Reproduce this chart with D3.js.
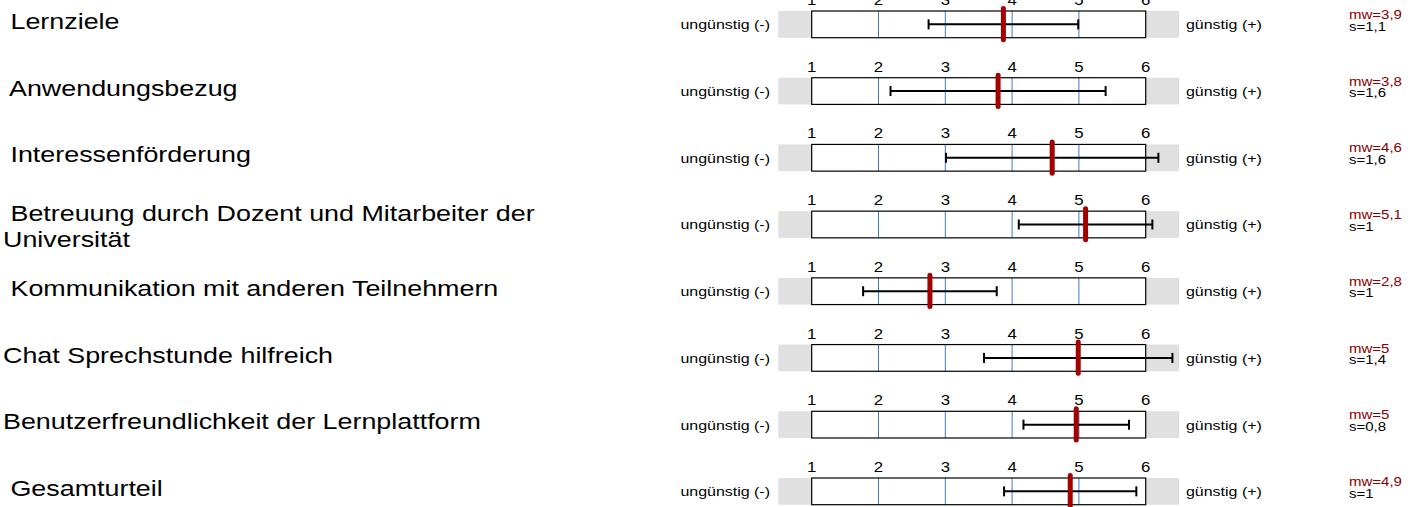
<!DOCTYPE html>
<html><head><meta charset="utf-8">
<script src="https://cdn.jsdelivr.net/npm/d3@7"></script>
<style>html,body{margin:0;padding:0;background:#fff;}svg{display:block;font-family:"Liberation Sans",Arial,sans-serif;}</style>
</head><body><svg id="c" width="1426" height="507"></svg>
<script>
const categories = [" Lernziele", " Anwendungsbezug", " Interessenförderung", " Betreuung durch Dozent und Mitarbeiter der|Universität", " Kommunikation mit anderen Teilnehmern", "Chat Sprechstunde hilfreich", "Benutzerfreundlichkeit der Lernplattform", " Gesamturteil"];
const means = [3.87, 3.79, 4.60, 5.10, 2.77, 4.99, 4.96, 4.87];
const sds = [1.12, 1.61, 1.59, 1.00, 1.00, 1.41, 0.79, 0.99];
const mwLabels = ["mw=3,9","mw=3,8","mw=4,6","mw=5,1","mw=2,8","mw=5","mw=5","mw=4,9"];
const sLabels = ["s=1,1","s=1,6","s=1,6","s=1","s=1","s=1,4","s=0,8","s=1"];
const ticks = [1,2,3,4,5,6];
const gridTicks = [2,3,4,5];
const leftLabel = "ungünstig (-)";
const rightLabel = "günstig (+)";

const svg = d3.select("#c");
const x = d3.scaleLinear().domain([1,6]).range([811.7,1145.7]);
const rowTop = d3.scaleLinear().domain([0,7]).range([11,478]);
const boxH = 26.7;

function stext(g, tx, ty, txt, size, anchor, fill, sx){
  return g.append("text").attr("transform",`translate(${tx},${ty}) scale(${sx||1.2},1)`)
    .attr("font-size",size).attr("text-anchor",anchor||"start").attr("fill",fill||"#000")
    .style("white-space","pre").attr("xml:space","preserve").text(txt);
}

categories.forEach((cat,i)=>{
  const t = rowTop(i);
  const g = svg.append("g");
  const parts = cat.split("|");
  if(parts.length>1){
    stext(g,3,t+9.7,parts[0],21.5,"start","#000",1.25);
    stext(g,3,t+35.7,parts[1],21.5,"start","#000",1.25);
  } else {
    stext(g,3,t+18,parts[0],21.5,"start","#000",1.25);
  }
  g.append("rect").attr("x",x(0.5)).attr("y",t).attr("width",x(6.5)-x(0.5)).attr("height",boxH).attr("fill","#e0e0e0");
  g.append("rect").attr("x",x(1)).attr("y",t).attr("width",x(6)-x(1)).attr("height",boxH).attr("fill","#fff");
  gridTicks.forEach(v=>{
    g.append("line").attr("x1",x(v)).attr("x2",x(v)).attr("y1",t).attr("y2",t+boxH).attr("stroke","#3d7cc9").attr("stroke-width",1);
  });
  g.append("rect").attr("x",x(1)).attr("y",t).attr("width",x(6)-x(1)).attr("height",boxH).attr("fill","none").attr("stroke","#000").attr("stroke-width",1.2);
  ticks.forEach(v=>{ stext(g,x(v),t-6,String(v),14,"middle"); });
  stext(g,770,t+boxH/2+5,leftLabel,13.3,"end");
  stext(g,1186,t+boxH/2+5,rightLabel,13.3,"start");
  const cy = t+boxH/2;
  const lo = means[i]-sds[i], hi = means[i]+sds[i];
  g.append("line").attr("x1",x(lo)).attr("x2",x(hi)).attr("y1",cy).attr("y2",cy).attr("stroke","#000").attr("stroke-width",2);
  [lo,hi].forEach(v=>{
    g.append("line").attr("x1",x(v)).attr("x2",x(v)).attr("y1",cy-5).attr("y2",cy+5).attr("stroke","#000").attr("stroke-width",2);
  });
  g.append("line").attr("x1",x(means[i])).attr("x2",x(means[i])).attr("y1",t-2.5).attr("y2",t+boxH+2)
    .attr("stroke","#a40000").attr("stroke-width",5).attr("stroke-linecap","round");
  stext(g,1349,t+8,mwLabels[i],12.5,"start","#8b0000");
  stext(g,1349,t+19.5,sLabels[i],12.5,"start","#000");
});
</script></body></html>
